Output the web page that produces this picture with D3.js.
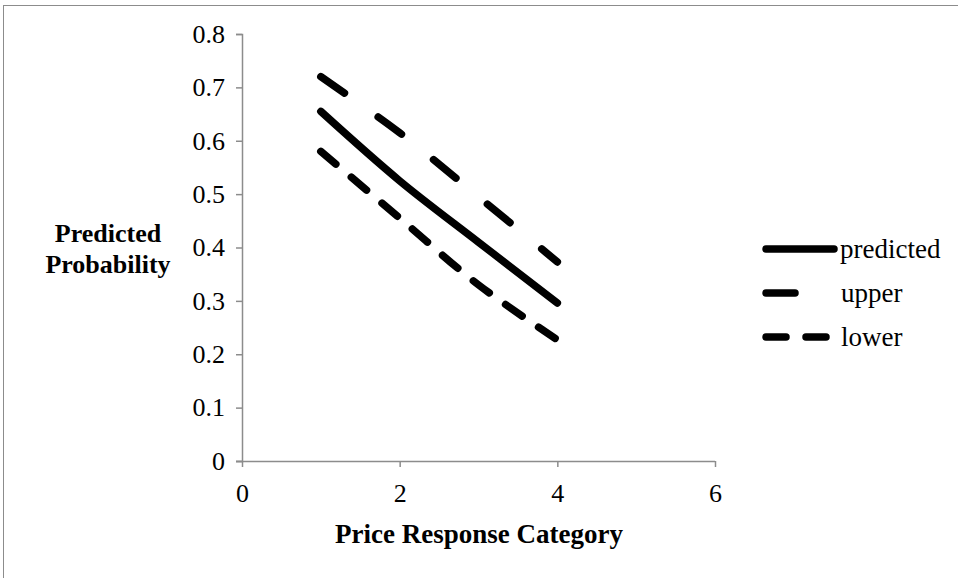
<!DOCTYPE html>
<html>
<head>
<meta charset="utf-8">
<script src="https://cdn.jsdelivr.net/npm/d3@7"></script>
<style>
  html, body { margin: 0; padding: 0; background: #fff; }
  svg { display: block; }
  text { font-family: "Liberation Serif", "Times New Roman", serif; fill: #000; }
</style>
</head>
<body>
<svg id="chart" width="958" height="578"></svg>
<script>
// Price response categories and predicted probabilities with confidence bounds
const categories = [1, 2, 3, 4];
const predicted = [0.655, 0.525, 0.41, 0.296];
const upper = [0.72, 0.615, 0.495, 0.373];
const lower = [0.58, 0.455, 0.33, 0.227];
const seriesNames = ["predicted", "upper", "lower"];
const xTicks = [0, 2, 4, 6];
const yTicks = [0, 0.1, 0.2, 0.3, 0.4, 0.5, 0.6, 0.7, 0.8];

const svg = d3.select("#chart");
const axisColor = "#8c8c8c";
const serif = '"Liberation Serif", "Times New Roman", serif';

// outer frame
svg.append("rect")
  .attr("x", 3.5).attr("y", 5.5)
  .attr("width", 970).attr("height", 600)
  .attr("fill", "none").attr("stroke", axisColor).attr("stroke-width", 1);

const x = d3.scaleLinear().domain([0, 6]).range([242, 715]);
const y = d3.scaleLinear().domain([0, 0.8]).range([461, 34]);

// y axis
const yAxis = svg.append("g").attr("transform", `translate(${x(0)},0)`)
  .call(d3.axisLeft(y).tickValues(yTicks).tickSize(6).tickPadding(11)
    .tickFormat(d => d === 0 ? "0" : d3.format(".1f")(d)));
// x axis
const xAxis = svg.append("g").attr("transform", `translate(0,${y(0)})`)
  .call(d3.axisBottom(x).tickValues(xTicks).tickSize(6).tickPadding(17)
    .tickFormat(d3.format("d")));

[yAxis, xAxis].forEach(g => {
  g.attr("font-size", null).attr("font-family", null);
  g.select(".domain").attr("stroke", axisColor).attr("stroke-width", 1.5);
  g.selectAll(".tick line").attr("stroke", axisColor).attr("stroke-width", 1.5);
  g.selectAll(".tick text").attr("font-size", 26)
    .style("font-family", serif).attr("fill", "#000");
});
xAxis.select(".domain").attr("d", `M${x(0) - 6},0.5H${x(6)}`);

// axis titles
svg.append("text").attr("x", 479).attr("y", 543)
  .attr("text-anchor", "middle").attr("font-size", 27).attr("font-weight", "bold")
  .text("Price Response Category");
const yTitle = svg.append("text").attr("text-anchor", "middle")
  .attr("font-size", 26).attr("font-weight", "bold");
yTitle.append("tspan").attr("x", 108).attr("y", 242).text("Predicted");
yTitle.append("tspan").attr("x", 108).attr("y", 273).text("Probability");

// series lines
const styles = {
  predicted: null,
  upper: "29,41",
  lower: "20,20"
};
const data = { predicted, upper, lower };
const line = d3.line()
  .x((d, i) => x(categories[i]))
  .y(d => y(d))
  .curve(d3.curveCatmullRom.alpha(0.5));

seriesNames.forEach(name => {
  svg.append("path")
    .datum(data[name])
    .attr("d", line)
    .attr("fill", "none")
    .attr("stroke", "#000")
    .attr("stroke-width", 7.5)
    .attr("stroke-linecap", "round")
    .attr("stroke-dasharray", styles[name]);
});

// legend
const legendY = [249, 293, 337];
seriesNames.forEach((name, i) => {
  svg.append("line")
    .attr("x1", 766).attr("x2", name === "upper" ? 796 : 834)
    .attr("y1", legendY[i]).attr("y2", legendY[i])
    .attr("stroke", "#000").attr("stroke-width", 7.5)
    .attr("stroke-linecap", "round")
    .attr("stroke-dasharray", styles[name]);
  svg.append("text").attr("x", name === "predicted" ? 840 : 841)
    .attr("y", legendY[i] + 9).attr("font-size", 27).text(name);
});
</script>
</body>
</html>
